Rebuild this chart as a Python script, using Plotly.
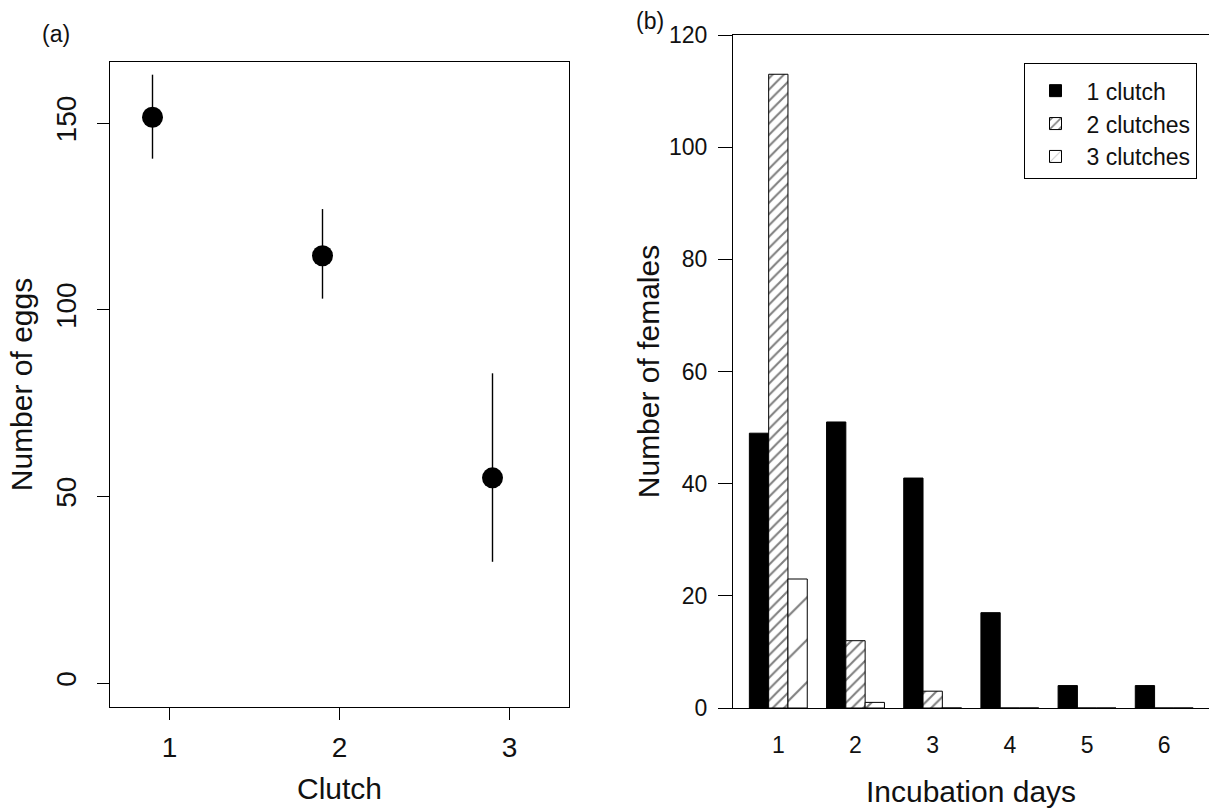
import plotly.graph_objects as go

# ---- data -------------------------------------------------------------
# (a) number of eggs per clutch: mean with lower/upper interval
clutch = [1, 2, 3]
eggs_mean = [151.6, 114.5, 55.0]
eggs_upper = [163.0, 127.0, 83.0]
eggs_lower = [140.5, 103.0, 32.5]
point_offset = -0.1  # points sit slightly left of each clutch tick

# (b) number of females by incubation days
days = ["1", "2", "3", "4", "5", "6"]
one_clutch = [49, 51, 41, 17, 4, 4]
two_clutches = [113, 12, 3, 0, 0, 0]
three_clutches = [23, 1, 0, 0, 0, 0]

FONT = "Liberation Sans, Arial, sans-serif"
W, H = 1209, 808


def px_x(p):
    return p / W


def px_y(p):
    return 1 - p / H


fig = go.Figure()

# ---- panel (a) --------------------------------------------------------
fig.add_trace(go.Scatter(
    x=[c + point_offset for c in clutch],
    y=eggs_mean,
    mode="markers",
    marker=dict(color="black", size=21),
    error_y=dict(
        type="data", symmetric=False,
        array=[u - m for u, m in zip(eggs_upper, eggs_mean)],
        arrayminus=[m - l for m, l in zip(eggs_mean, eggs_lower)],
        color="black", thickness=1.4, width=0,
    ),
    showlegend=False, xaxis="x", yaxis="y",
))

# ---- panel (b) --------------------------------------------------------
bar_line = dict(color="black", width=1)
fig.add_trace(go.Bar(
    x=days, y=one_clutch, name="1 clutch",
    marker=dict(color="black", line=bar_line),
    xaxis="x2", yaxis="y2",
))
fig.add_trace(go.Bar(
    x=days, y=two_clutches, name="2 clutches",
    marker=dict(color="white", line=bar_line,
                pattern=dict(shape="/", fgcolor="black", bgcolor="white",
                             size=8, solidity=0.26)),
    xaxis="x2", yaxis="y2",
))
fig.add_trace(go.Bar(
    x=days, y=three_clutches, name="3 clutches",
    marker=dict(color="white", line=bar_line,
                pattern=dict(shape="/", fgcolor="black", bgcolor="white",
                             size=30, solidity=0.07)),
    xaxis="x2", yaxis="y2",
))

axis_common = dict(
    showgrid=False, zeroline=False, linecolor="black", linewidth=1.2,
    tickcolor="black", tickwidth=1.2, automargin=False,
)
TICK_A = dict(family=FONT, size=28, color="#111")
TICK_B = dict(family=FONT, size=23, color="#111")
TITLE = dict(family=FONT, size=30, color="#111")

fig.update_layout(
    width=W, height=H,
    margin=dict(l=0, r=0, t=0, b=0, autoexpand=False),
    paper_bgcolor="white", plot_bgcolor="white",
    font=dict(family=FONT, color="#111"),
    barmode="group", bargap=0.25, bargroupgap=0,
    xaxis=dict(
        **axis_common, tickfont=TICK_A,
        domain=[px_x(110), px_x(569)],
        range=[0.65, 3.35],
        tickvals=clutch, ticktext=[str(c) for c in clutch],
        ticks="outside", ticklen=12, showline=True, mirror=True,
        ticklabelstandoff=3,
        title=dict(text="Clutch", font=TITLE, standoff=16),
        anchor="y",
    ),
    yaxis=dict(
        **axis_common, tickfont=TICK_A,
        domain=[px_y(707), px_y(62)],
        range=[-6.4, 166.4],
        tickvals=[0, 50, 100, 150],
        ticks="outside", ticklen=12, showline=True, mirror=True,
        tickangle=-90, ticklabelstandoff=10,
        title=dict(text="Number of eggs", font=TITLE, standoff=9),
        anchor="x",
    ),
    xaxis2=dict(
        **axis_common, tickfont=TICK_B,
        domain=[px_x(733), 1.0],
        range=[-0.587, 5.58],
        type="category",
        ticks="", showline=True, mirror=True,
        ticklabelstandoff=16,
        title=dict(text="Incubation days", font=TITLE, standoff=32),
        anchor="y2",
    ),
    yaxis2=dict(
        **axis_common, tickfont=TICK_B,
        domain=[px_y(708), px_y(35)],
        range=[0, 120],
        tickvals=[0, 20, 40, 60, 80, 100, 120],
        ticks="outside", ticklen=14, showline=True, mirror=False,
        ticklabelstandoff=6,
        title=dict(text="Number of females", font=TITLE, standoff=0),
        anchor="x2",
    ),
    legend=dict(
        x=px_x(1110), y=px_y(63), xanchor="center", yanchor="top",
        bordercolor="black", borderwidth=1, bgcolor="white",
        font=dict(family=FONT, size=23, color="#111"),
        title=dict(text=" ", font=dict(size=4)),
        itemwidth=52, tracegroupgap=0,
    ),
    annotations=[
        dict(text="(a)", x=px_x(56), y=px_y(34), xref="paper", yref="paper",
             xanchor="center", yanchor="middle",
             showarrow=False, font=dict(family=FONT, size=23, color="#111")),
        dict(text="(b)", x=px_x(650), y=px_y(21), xref="paper", yref="paper",
             xanchor="center", yanchor="middle",
             showarrow=False, font=dict(family=FONT, size=23, color="#111")),
    ],
)

fig.write_html("out.html")
